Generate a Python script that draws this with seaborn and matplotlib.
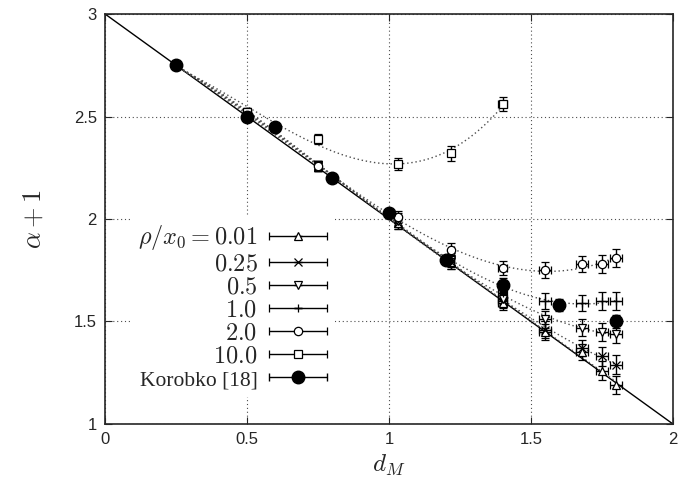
import numpy as np
import matplotlib
matplotlib.use("Agg")
import matplotlib.pyplot as plt
import seaborn as sns
from matplotlib.container import ErrorbarContainer
from matplotlib.legend_handler import HandlerErrorbar

# simulation points (d_M, alpha+1)
d_sim = [0.25, 0.50, 0.75, 1.03, 1.22, 1.40, 1.55, 1.68, 1.75, 1.80]
a_001 = [2.75, 2.51, 2.26, 1.98, 1.79, 1.59, 1.45, 1.35, 1.26, 1.19]
a_025 = [2.75, 2.51, 2.26, 1.98, 1.79, 1.60, 1.46, 1.37, 1.33, 1.29]
a_05 = [2.75, 2.51, 2.26, 1.99, 1.80, 1.61, 1.51, 1.47, 1.45, 1.44]
a_10 = [2.75, 2.51, 2.26, 2.00, 1.81, 1.64, 1.60, 1.59, 1.60, 1.60]
a_20 = [2.75, 2.52, 2.26, 2.01, 1.85, 1.76, 1.75, 1.78, 1.78, 1.81]
d_sq = [0.25, 0.50, 0.75, 1.03, 1.22, 1.40]
a_100 = [2.75, 2.52, 2.39, 2.27, 2.32, 2.56]
sim_xerr = [0.005, 0.005, 0.01, 0.01, 0.01, 0.015, 0.02, 0.02, 0.02, 0.02]
sim_yerr = [0.01, 0.02, 0.025, 0.03, 0.035, 0.035, 0.04, 0.04, 0.045, 0.045]

# Korobko [18]
d_kor = [0.25, 0.50, 0.60, 0.80, 1.00, 1.20, 1.40, 1.60, 1.80]
a_kor = [2.75, 2.50, 2.45, 2.20, 2.03, 1.80, 1.68, 1.58, 1.50]
kor_yerr = [0.01, 0.02, 0.02, 0.02, 0.02, 0.02, 0.03, 0.03, 0.03]

line_d = [0, 2]
line_a = [3, 1]

labels = [r"$\rho/x_0 = 0.01$", "$0.25$", "$0.5$", "$1.0$", "$2.0$", "$10.0$",
          "Korobko [18]"]
xticks = [0, 0.5, 1, 1.5, 2]
xticklabels = ["0", "0.5", "1", "1.5", "2"]
yticks = [1, 1.5, 2, 2.5, 3]
yticklabels = ["1", "1.5", "2", "2.5", "3"]

sns.set_style("ticks")
plt.rcParams['font.family'] = ['Liberation Sans', 'DejaVu Sans']
plt.rcParams['mathtext.fontset'] = 'cm'

fig = plt.figure(figsize=(6.78, 4.87), dpi=100)
ax = fig.add_axes([0.155, 0.1294, 0.8375, 0.8418])

# theory line
sns.lineplot(x=line_d, y=line_a, color='k', lw=1.0, ax=ax)

series = [(d_sim, a_001, '^'), (d_sim, a_025, 'x'), (d_sim, a_05, 'v'),
          (d_sim, a_10, '+'), (d_sim, a_20, 'o'), (d_sq, a_100, 's')]

# fitted curves (dotted)
for xs, ys, m in series:
    c = np.polyfit(xs, ys, 3)
    fx = np.linspace(min(xs), max(xs), 200)
    sns.lineplot(x=fx, y=np.polyval(c, fx), color='0.3', lw=1.0,
                 linestyle=(0, (1, 2)), ax=ax)

for (xs, ys, m), lab in zip(series, labels[:6]):
    n = len(xs)
    ax.errorbar(xs, ys, xerr=sim_xerr[:n], yerr=sim_yerr[:n], fmt=m,
                mfc='white' if m in ('^', 'v', 'o', 's') else 'k', mec='k',
                ms=6, mew=0.9, ecolor='k', elinewidth=1.0, capsize=3,
                color='k', label=lab, zorder=3)

ax.errorbar(d_kor, a_kor, xerr=[0.0] * len(d_kor), yerr=kor_yerr, fmt='o',
            color='k', ms=9, ecolor='k', elinewidth=1.0, capsize=3,
            label=labels[6], zorder=4)

ax.set_xlim(0, 2)
ax.set_ylim(1, 3)
ax.set_xticks(xticks)
ax.set_xticklabels(xticklabels)
ax.set_yticks(yticks)
ax.set_yticklabels(yticklabels)
ax.tick_params(direction='in', top=True, right=True, length=5, width=0.8,
               labelsize=12, pad=6)
ax.grid(True, color='0.3', linestyle=(0, (1, 2.5)), lw=0.8)
ax.set_axisbelow(True)
for s in ax.spines.values():
    s.set_linewidth(1.2)

ax.set_xlabel("$d_M$", fontsize=18, labelpad=4)
ax.set_ylabel(r"$\alpha+1$", fontsize=19, labelpad=20)

leg = ax.legend(loc='upper right', bbox_to_anchor=(0.427, 0.537), markerfirst=False,
                prop={'family': 'Liberation Serif', 'size': 17.5},
                handlelength=2.45, handletextpad=0.45,
                labelspacing=0.04, borderpad=0.3, frameon=True,
                facecolor='white', edgecolor='none', framealpha=1.0,
                fancybox=False,
                handler_map={ErrorbarContainer: HandlerErrorbar(xerr_size=1.2, yerr_size=0.0)})
leg.get_texts()[6].set_fontsize(15.5)
leg.set_zorder(5)

fig.savefig("out.png", dpi=100)
